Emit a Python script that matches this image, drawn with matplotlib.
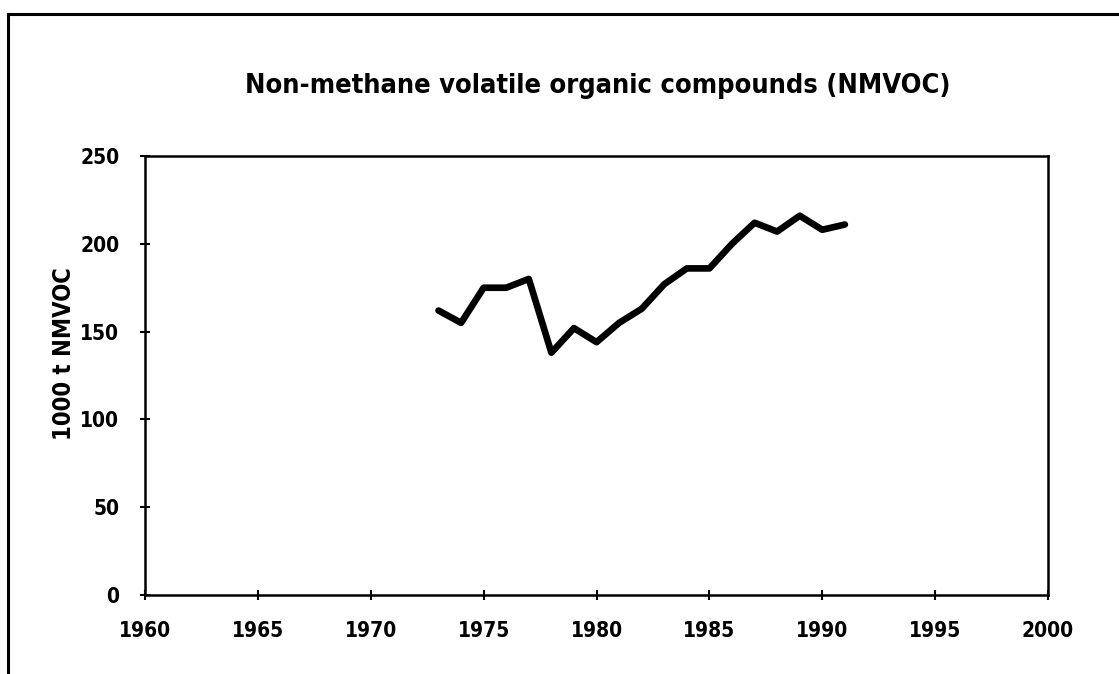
import matplotlib
matplotlib.use("Agg")
import matplotlib.pyplot as plt
from matplotlib.lines import Line2D

# data
years = [1973, 1974, 1975, 1976, 1977, 1978, 1979, 1980, 1981, 1982,
         1983, 1984, 1985, 1986, 1987, 1988, 1989, 1990, 1991]
nmvoc = [162, 155, 175, 175, 180, 138, 152, 144, 155, 163,
         177, 186, 186, 200, 212, 207, 216, 208, 211]
x_ticks = [1960, 1965, 1970, 1975, 1980, 1985, 1990, 1995, 2000]
y_ticks = [0, 50, 100, 150, 200, 250]

plt.rcParams['font.family'] = ['DejaVu Sans']
plt.rcParams['font.stretch'] = 'condensed'
plt.rcParams['font.weight'] = 'bold'

fig = plt.figure(figsize=(11.19, 6.74), dpi=100)
ax = fig.add_axes([0.1296, 0.1172, 0.807, 0.6513])

ax.plot(years, nmvoc, color='black', linewidth=4.8,
        solid_capstyle='round', solid_joinstyle='round')

ax.set_xlim(1960, 2000)
ax.set_ylim(0, 250)
ax.set_xticks(x_ticks)
ax.set_yticks(y_ticks)
ax.tick_params(direction='inout', length=7, width=1.5, labelsize=15, pad=15)
for s in ax.spines.values():
    s.set_linewidth(1.8)

# y axis title placed by hand like the original
fig.text(0.057, 0.475, '1000 t NMVOC', rotation=90, ha='center', va='center',
         fontsize=17, fontweight='bold')

fig.text(0.534, 0.873, 'Non-methane volatile organic compounds (NMVOC)',
         ha='center', va='center', fontsize=19.5, fontweight='bold')

# outer frame (left and top edges of the page box)
fig.add_artist(Line2D([0.007, 0.007], [0.0, 0.979], transform=fig.transFigure,
                      color='black', linewidth=2.2))
fig.add_artist(Line2D([0.007, 1.0], [0.979, 0.979], transform=fig.transFigure,
                      color='black', linewidth=2.2))

fig.savefig('out.png', dpi=100)
